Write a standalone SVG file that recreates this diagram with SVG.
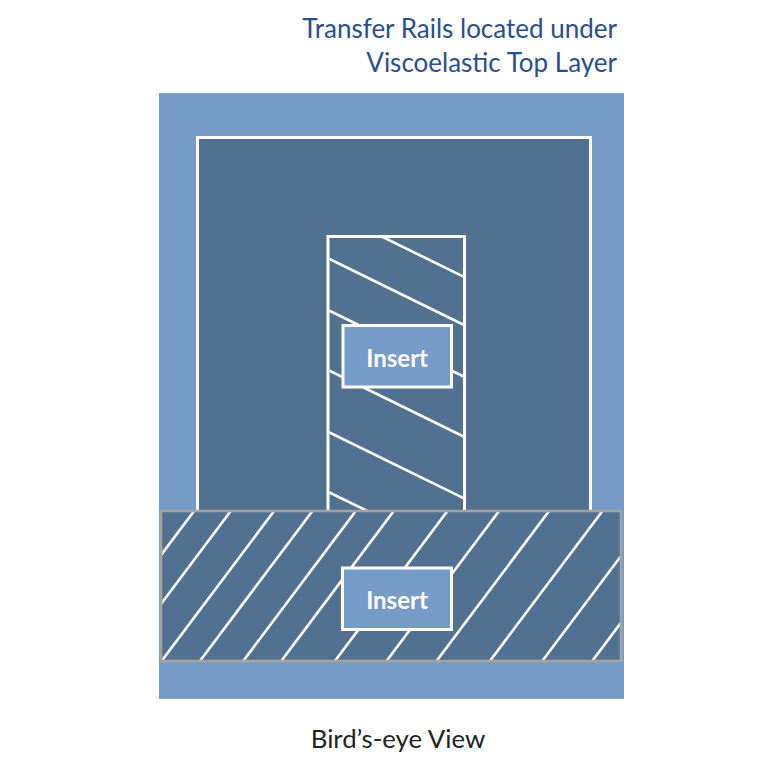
<svg xmlns="http://www.w3.org/2000/svg" width="770" height="770" viewBox="0 0 770 770">
<style>
.dark{fill:#52708f}
.light{fill:#769bc8}
.wb{stroke:#ffffff;stroke-width:3}
.hatch{stroke:#ffffff;stroke-width:2.6;fill:none}
.title{font-family:Lato,"Open Sans",sans-serif;font-size:26px;fill:#2b4e8c}
.caption{font-family:Lato,"Open Sans",sans-serif;font-size:25.8px;fill:#222222}
.ins{font-family:Lato,"Open Sans",sans-serif;font-size:24px;font-weight:bold;fill:#ffffff}
</style>
<defs>
<clipPath id="cv"><rect x="329.5" y="238" width="133.5" height="274"/></clipPath>
<clipPath id="cb"><rect x="162.3" y="512.3" width="457.4" height="147.4"/></clipPath>
</defs>
<rect width="770" height="770" fill="#ffffff"/>
<g id="title">
<text class="title" x="617" y="38" text-anchor="end">Transfer Rails located under</text>
<text class="title" x="617" y="72" text-anchor="end">Viscoelastic Top Layer</text>
</g>
<g id="base">
<rect class="light" x="159" y="93" width="465" height="606"/>
</g>
<g id="top-layer">
<rect class="dark wb" x="197.5" y="137.5" width="393" height="390"/>
</g>
<g id="vertical-rail">
<rect class="dark wb" x="328" y="236.5" width="136.5" height="285"/>
<g clip-path="url(#cv)" class="hatch">
<line x1="320" y1="206.3" x2="472" y2="280.8"/>
<line x1="320" y1="254.4" x2="472" y2="328.9"/>
<line x1="320" y1="306.1" x2="472" y2="380.6"/>
<line x1="320" y1="366.1" x2="472" y2="440.6"/>
<line x1="320" y1="427.8" x2="472" y2="502.3"/>
<line x1="320" y1="487.8" x2="472" y2="562.3"/>
</g>
</g>
<g id="insert-1">
<rect class="light wb" x="343" y="325.5" width="108.5" height="61.5"/>
<text class="ins" x="397.2" y="366.5" text-anchor="middle">Insert</text>
</g>
<g id="bottom-rail">
<rect class="dark" x="161" y="511" width="460" height="150" stroke="#a3a3a3" stroke-width="2.6"/>
<g clip-path="url(#cb)" class="hatch">
<line x1="202.3" y1="500" x2="73.3" y2="672"/>
<line x1="239" y1="500" x2="110" y2="672"/>
<line x1="282.3" y1="500" x2="153.3" y2="672"/>
<line x1="320.7" y1="500" x2="191.7" y2="672"/>
<line x1="364" y1="500" x2="235" y2="672"/>
<line x1="402" y1="500" x2="273" y2="672"/>
<line x1="455.7" y1="500" x2="326.7" y2="672"/>
<line x1="507.3" y1="500" x2="378.3" y2="672"/>
<line x1="557.3" y1="500" x2="428.3" y2="672"/>
<line x1="610.7" y1="500" x2="481.7" y2="672"/>
<line x1="663" y1="500" x2="534" y2="672"/>
<line x1="713" y1="500" x2="584" y2="672"/>
</g>
</g>
<g id="insert-2">
<rect class="light wb" x="342.5" y="568" width="109" height="61.5"/>
<text class="ins" x="397" y="608.5" text-anchor="middle">Insert</text>
</g>
<g id="caption">
<text class="caption" x="398" y="748" text-anchor="middle">Bird’s-eye View</text>
</g>
</svg>
